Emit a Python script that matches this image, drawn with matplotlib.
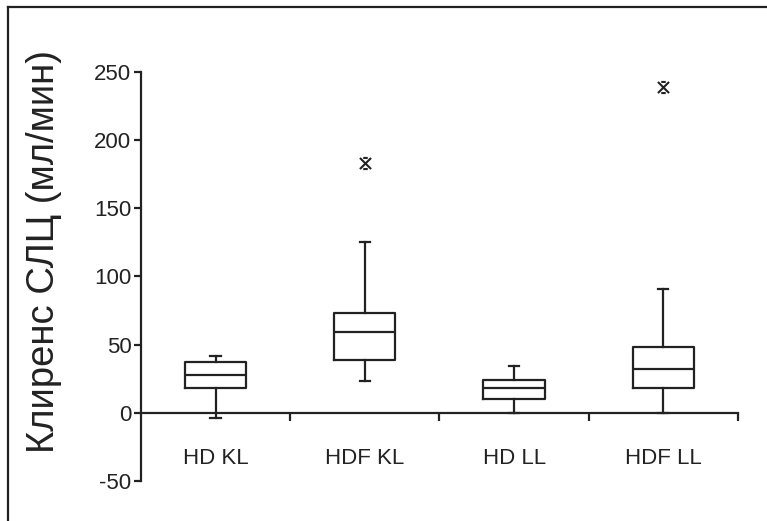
import numpy as np
import matplotlib.pyplot as plt
from matplotlib.lines import Line2D
from matplotlib.path import Path

# Clearance boxplot values
groups = ["HD KL", "HDF KL", "HD LL", "HDF LL"]
whisker_low = [-4, 23, 0, 0]
q1 = [18, 39, 10, 18]
medians = [28, 59, 18, 32]
q3 = [37, 73, 24, 48]
whisker_high = [42, 125, 34, 91]
outliers = [[], [183], [], [239]]

yticks = [-50, 0, 50, 100, 150, 200, 250]

plt.rcParams['font.family'] = ['Liberation Sans Narrow', 'Liberation Sans', 'DejaVu Sans']
ink = "#222222"

# outlier glyph: an x with short bars on top and bottom
star = Path([(-1, 1), (1, -1), (-1, -1), (1, 1), (-0.4, 1), (0.4, 1), (-0.4, -1), (0.4, -1)],
            [Path.MOVETO, Path.LINETO] * 4)

fig = plt.figure(figsize=(7.67, 5.21), dpi=100)
ax = fig.add_axes([0.184, 0.0768, 0.778, 0.7852])

stats = []
for i, name in enumerate(groups):
    stats.append(dict(label=name, whislo=whisker_low[i], q1=q1[i], med=medians[i],
                      q3=q3[i], whishi=whisker_high[i], fliers=outliers[i]))

lw = 1.6
ax.bxp(stats, positions=np.arange(1, 5), widths=0.41, capwidths=0.07,
       boxprops=dict(color=ink, linewidth=lw),
       whiskerprops=dict(color=ink, linewidth=lw),
       capprops=dict(color=ink, linewidth=lw),
       medianprops=dict(color=ink, linewidth=lw),
       flierprops=dict(marker=star, markersize=8, markeredgewidth=1.5,
                       markeredgecolor=ink, linestyle='none'))

ax.set_xlim(0.5, 4.5)
ax.set_ylim(-50, 250)
ax.set_yticks(yticks)
ax.set_yticklabels([str(t) for t in yticks], fontsize=16)

ax.spines['top'].set_visible(False)
ax.spines['right'].set_visible(False)
ax.spines['left'].set_linewidth(lw)
ax.spines['left'].set_color(ink)
ax.spines['bottom'].set_position(('data', 0))
ax.spines['bottom'].set_linewidth(lw)
ax.spines['bottom'].set_color(ink)

ax.set_xticks(np.arange(1, 5))
ax.set_xticklabels(groups, fontsize=16)
ax.set_xticks([1.5, 2.5, 3.5, 4.5], minor=True)
ax.tick_params(axis='x', which='major', length=0, pad=25, colors=ink)
ax.tick_params(axis='x', which='minor', length=6, width=lw, color=ink, direction='out')
ax.tick_params(axis='y', length=5, width=lw, color=ink, labelcolor=ink, pad=2)

fig.text(0.058, 0.518, "Клиренс СЛЦ (мл/мин)", rotation=90, fontsize=27.5,
         family=['Liberation Sans', 'DejaVu Sans'], ha='center', va='center', color=ink)

# page frame lines (top and left)
fig.add_artist(Line2D([0.0104, 1.0], [0.9866, 0.9866], transform=fig.transFigure,
                      color=ink, linewidth=1.6))
fig.add_artist(Line2D([0.0104, 0.0104], [0.0, 0.9866], transform=fig.transFigure,
                      color=ink, linewidth=1.6))

fig.savefig("out.png", dpi=100)
